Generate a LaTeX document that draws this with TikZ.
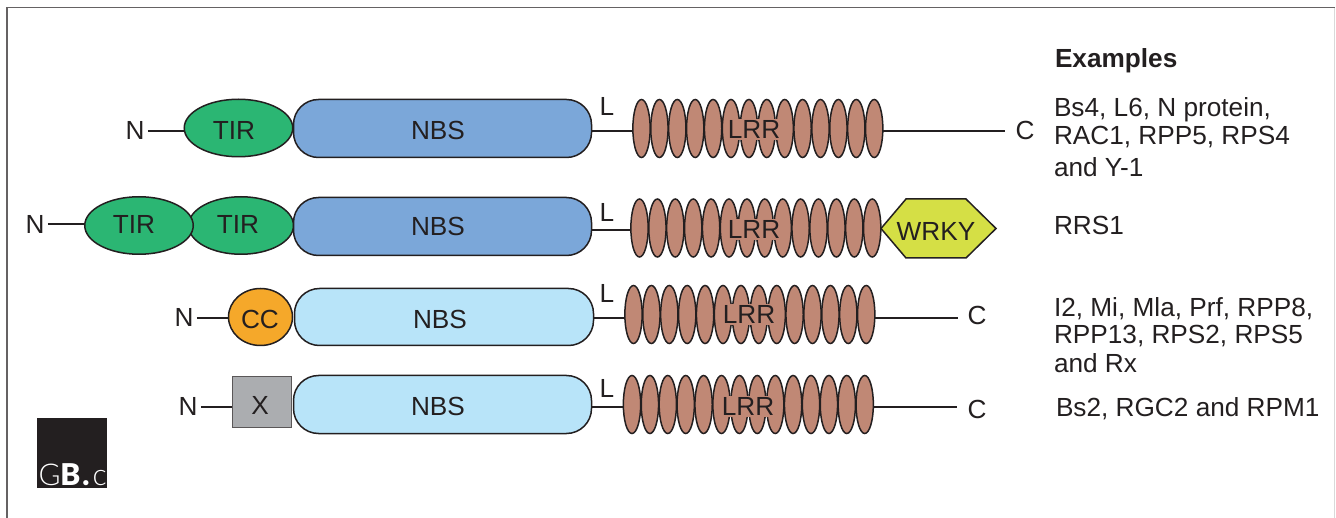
\documentclass[tikz,border=0pt]{standalone}
\usepackage{fontspec}
\setmainfont{Liberation Sans}
\newfontfamily\logofont{Lato Light}
\newfontfamily\logobold{Lato Black}
\usetikzlibrary{shapes.geometric}
\definecolor{ink}{HTML}{231F20}
\definecolor{tirc}{HTML}{2BB673}
\definecolor{nbsd}{HTML}{7BA7D9}
\definecolor{nbsl}{HTML}{B8E4F9}
\definecolor{ccc}{HTML}{F5A82A}
\definecolor{lrrc}{HTML}{C08875}
\definecolor{wrkyc}{HTML}{D5DF45}
\definecolor{xc}{HTML}{ABADB0}
\pgfdeclarelayer{back}
\pgfsetlayers{back,main}
\tikzset{
  x=1pt,y=-1pt,
  every node/.style={font=\fontsize{26.2}{30}\selectfont,text=ink},
  shp/.style={draw=ink,line width=1.5pt,inner sep=0pt,outer sep=0pt},
  ell/.style={shp,ellipse},
  tir/.style={ell,fill=tirc,minimum width=108.5pt,minimum height=57.5pt},
  nbs/.style={shp,rectangle,rounded corners=25pt,minimum width=298pt,minimum height=58pt},
  cco/.style={ell,fill=ccc,minimum width=64pt,minimum height=57pt},
  xbox/.style={shp,rectangle,fill=xc,draw=ink!75,minimum width=59pt,minimum height=51pt},
  lrrunit/.style={ell,fill=lrrc,minimum width=17.3pt,minimum height=58pt},
  lab/.style={anchor=base,inner sep=0pt,outer sep=0pt},
  endlab/.style={anchor=base,inner ysep=0pt,inner xsep=3.5pt,outer sep=0pt},
  lrrlab/.style={lab,fill=lrrc,inner xsep=1.5pt,inner ysep=1.5pt},
  txt/.style={anchor=base west,inner sep=0pt,outer sep=0pt},
  link/.style={draw=ink,line width=2pt},
}
\newcommand{\lrrchain}[3]{% prefix, first centre x, centre y
  \foreach \i in {1,...,14}{
    \node[lrrunit] (#1\i) at ({#2+(\i-1)*17.9},#3) {};
  }
}
\begin{document}
\begin{tikzpicture}
\useasboundingbox (0,0) rectangle (1336,518);
% frame
\coordinate (fa) at (7,518); \coordinate (fb) at (7,7.5);
\coordinate (fc) at (1334.5,7.5); \coordinate (fd) at (1334.5,518);
\draw[draw=black!15,line width=1pt] (fc) -- (fd);
\draw[draw=ink!70,line width=1.3pt] (fa) -- (fb) -- (fc);

% row 1
\coordinate (y1) at (0,131);
\node[tir] (t1) at (238.5,128) {};
\node[nbs,fill=nbsd] (b1) at (442.5,128.5) {};
\lrrchain{la}{641.5}{128.5}
\node[endlab] (n1) at (135,140) {N};
\node[lab] at (234,140) (t1l) {TIR};
\node[lab] (b1l) at (438,140) {NBS};
\node[lab] (l1) at (607,116) {L};
\node[lrrlab] (r1l) at (754,139) {LRR};
\node[lab] (c1) at (1025,140) {C};

% row 2
\coordinate (y2) at (0,224.5);
\coordinate (y2b) at (0,230);
\node[tir,minimum width=105pt] (t3) at (241,225.5) {};
\node[tir] (t2) at (139,225.5) {};
\node[nbs,fill=nbsd] (b2) at (442.5,226.5) {};
\lrrchain{lb}{639.5}{228}
\node[endlab] (n2) at (35,234) {N};
\node[lab] (t2l) at (134,234) {TIR};
\node[lab] (t3l) at (238,234) {TIR};
\node[lab] (b2l) at (438,236) {NBS};
\node[lab] (l2) at (607,222) {L};
\node[lrrlab] (r2l) at (754,239) {LRR};
\draw[shp,fill=wrkyc] (881,228.5) -- (906,199) -- (966,199) -- (996,228.5) -- (966,258) -- (906,258) -- cycle;
\node[lab] (w) at (936,241) {WRKY};

% row 3
\coordinate (y3) at (0,318);
\node[cco] (cc) at (260.5,317) {};
\node[nbs,fill=nbsl,minimum width=299pt,minimum height=57pt] (b3) at (444,317) {};
\lrrchain{lc}{633.5}{314.5}
\node[endlab] (n3) at (184,327) {N};
\node[lab] (ccl) at (260,329) {CC};
\node[lab] (b3l) at (440,329) {NBS};
\node[lab] (l3) at (607,303) {L};
\node[lrrlab] (r3l) at (749,324) {LRR};
\node[lab] (c3) at (977,325) {C};

% row 4
\coordinate (y4) at (0,407);
\node[xbox] (xb) at (262,402) {};
\node[nbs,fill=nbsl] (b4) at (442.5,404.5) {};
\lrrchain{ld}{632}{404.5}
\node[endlab] (n4) at (188,416) {N};
\node[lab] (xl) at (260,414) {X};
\node[lab] (b4l) at (438,415) {NBS};
\node[lab] (l4) at (607,398) {L};
\node[lrrlab] (r4l) at (748,416) {LRR};
\node[lab] (c4) at (977,418) {C};

% connectors
\begin{pgfonlayer}{back}
\draw[link] (n1.east |- y1) -- (t1.west |- y1);
\draw[link] (b1.east |- y1) -- (la1.west |- y1);
\draw[link] (la14.east |- y1) -- ([xshift=-11pt]c1.west |- y1);
\draw[link] (n2.east |- y2) -- (t2.west |- y2);
\draw[link] (b2.east |- y2b) -- (lb1.west |- y2b);
\draw[link] (n3.east |- y3) -- (cc.west |- y3);
\draw[link] (b3.east |- y3) -- (lc1.west |- y3);
\draw[link] (lc14.east |- y3) -- ([xshift=-10pt]c3.west |- y3);
\draw[link] (n4.east |- y4) -- (xb.west |- y4);
\draw[link] (b4.east |- y4) -- (ld1.west |- y4);
\draw[link] (ld14.east |- y4) -- ([xshift=-11pt]c4.west |- y4);
\end{pgfonlayer}

% examples
\node[txt,font=\fontsize{26.2}{30}\selectfont\bfseries] (ex) at (1055,68) {Examples};
\node[txt] (e1a) at (1054,117) {Bs4, L6, N protein,};
\node[txt] (e1b) at (1054,145) {RAC1, RPP5, RPS4};
\node[txt] (e1c) at (1054,177) {and Y-1};
\node[txt] (e2) at (1054,235) {RRS1};
\node[txt] (e3a) at (1054,317) {I2, Mi, Mla, Prf, RPP8,};
\node[txt] (e3b) at (1054,344) {RPP13, RPS2, RPS5};
\node[txt] (e3c) at (1054,373) {and Rx};
\node[txt] (e4) at (1056,417) {Bs2, RGC2 and RPM1};

% logo
\node[anchor=north west,fill=ink,minimum width=70pt,minimum height=70pt,inner sep=0pt,outer sep=0pt] (lg) at (37,418) {};
\node[anchor=base west,inner sep=0pt,text=white] (lgt) at (38.5,485) {\fontsize{30}{30}\selectfont{\logofont G}{\logobold\kern-0.5pt B\kern2pt.}{\logofont\kern3pt c}};
\end{tikzpicture}
\end{document}
